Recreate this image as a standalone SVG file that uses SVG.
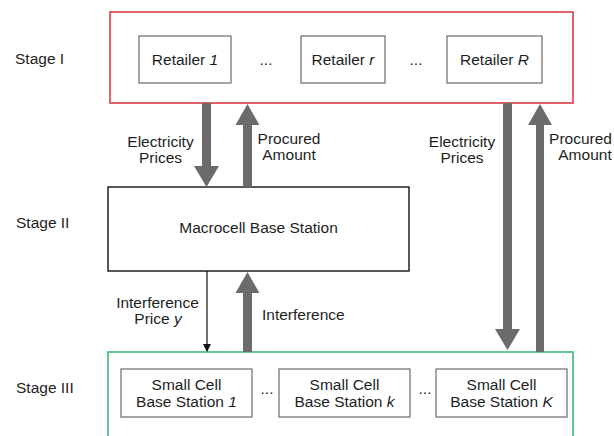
<svg xmlns="http://www.w3.org/2000/svg" width="614" height="436" viewBox="0 0 614 436">
<style>
text{font-family:"Liberation Sans",Arial,sans-serif;font-size:15.5px;fill:#1e1e1e}
.m{text-anchor:middle}
.e{text-anchor:end}
.box{fill:#fff;stroke:#6a6a6a;stroke-width:1.2}
.arr{fill:#6b6b6b}
.it{font-style:italic}
</style>
<defs>
<marker id="ah" markerWidth="8" markerHeight="8" refX="7" refY="4" orient="auto" markerUnits="userSpaceOnUse">
<path d="M0,0 L8,4 L0,8 Z" fill="#111"/>
</marker>
</defs>
<rect width="614" height="436" fill="#fff"/>

<g id="stage-labels">
<text x="15" y="64">Stage I</text>
<text x="16" y="228">Stage II</text>
<text x="16" y="393">Stage III</text>
</g>

<g id="stage1">
<rect x="110" y="12" width="463" height="91" fill="none" stroke="#dd3b45" stroke-width="1.6"/>
<g id="retailer1"><rect class="box" x="139" y="36" width="92" height="47"/><text class="m" x="185" y="65">Retailer <tspan class="it">1</tspan></text></g>
<text class="m" x="266" y="65">...</text>
<g id="retailerr"><rect class="box" x="301" y="36" width="84" height="47"/><text class="m" x="343" y="65">Retailer <tspan class="it">r</tspan></text></g>
<text class="m" x="416" y="65">...</text>
<g id="retailerR"><rect class="box" x="447" y="36" width="95" height="47"/><text class="m" x="494.5" y="65">Retailer <tspan class="it">R</tspan></text></g>
</g>

<g id="macrocell">
<rect x="108" y="187" width="301" height="84" fill="#fff" stroke="#111" stroke-width="1.4"/>
<text class="m" x="258.5" y="233">Macrocell Base Station</text>
</g>

<g id="stage3">
<rect x="108" y="352" width="465" height="100" fill="none" stroke="#3cb878" stroke-width="1.6"/>
<g id="sbs1"><rect class="box" x="121" y="369" width="131" height="48"/><text class="m" x="186.5" y="390">Small Cell</text><text class="m" x="186.5" y="407">Base Station <tspan class="it">1</tspan></text></g>
<text class="m" x="267" y="394">...</text>
<g id="sbsk"><rect class="box" x="279" y="369" width="131" height="48"/><text class="m" x="344.5" y="390">Small Cell</text><text class="m" x="344.5" y="407">Base Station <tspan class="it">k</tspan></text></g>
<text class="m" x="425" y="394">...</text>
<g id="sbsK"><rect class="box" x="436" y="369" width="131" height="48"/><text class="m" x="501.5" y="390">Small Cell</text><text class="m" x="501.5" y="407">Base Station <tspan class="it">K</tspan></text></g>
</g>

<g id="connectors">
<polygon class="arr" points="202,103 211,103 211,166 219,166 206.5,187 194,166 202,166"/>
<polygon class="arr" points="243,187 252,187 252,125 259.5,125 247.5,104 235.5,125 243,125"/>
<polygon class="arr" points="503,103 512,103 512,329 520,329 507.5,350 495,329 503,329"/>
<polygon class="arr" points="536,352 544,352 544,125 552,125 540,104 528,125 536,125"/>
<polygon class="arr" points="243,352 252,352 252,293 259.5,293 247.5,272 235.5,293 243,293"/>
<line x1="207" y1="271" x2="207" y2="351" stroke="#111" stroke-width="1.2" marker-end="url(#ah)"/>
</g>

<g id="connector-labels">
<text class="m" x="160.5" y="147">Electricity</text>
<text class="m" x="160.5" y="163">Prices</text>
<text class="m" x="289" y="144">Procured</text>
<text class="m" x="289" y="160">Amount</text>
<text class="m" x="462" y="147">Electricity</text>
<text class="m" x="462" y="163">Prices</text>
<text class="e" x="612" y="144">Procured</text>
<text class="m" x="585" y="160">Amount</text>
<text class="m" x="157.5" y="308">Interference</text>
<text class="m" x="158" y="324">Price <tspan class="it">y</tspan></text>
<text x="262" y="320">Interference</text>
</g>
</svg>
